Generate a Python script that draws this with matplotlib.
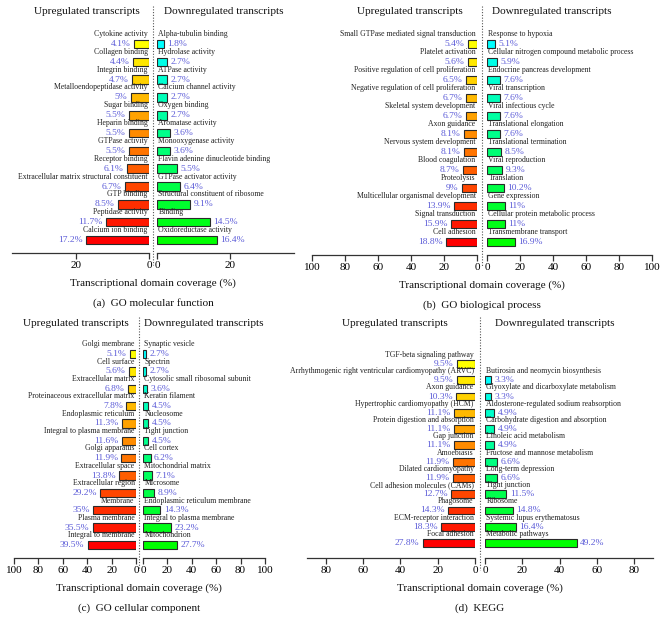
import numpy as np
import matplotlib.pyplot as plt
from matplotlib.colors import hsv_to_rgb
from matplotlib.lines import Line2D

plt.rcParams['font.family'] = ['Liberation Serif', 'DejaVu Serif']

# (a) GO molecular function
mf_up_terms = ['Cytokine activity', 'Collagen binding', 'Integrin binding',
               'Metalloendopeptidase activity', 'Sugar binding', 'Heparin binding',
               'GTPase activity', 'Receptor binding',
               'Extracellular matrix structural constituent', 'GTP binding',
               'Peptidase activity', 'Calcium ion binding']
mf_up_vals = [4.1, 4.4, 4.7, 5, 5.5, 5.5, 5.5, 6.1, 6.7, 8.5, 11.7, 17.2]
mf_dn_terms = ['Alpha-tubulin binding', 'Hydrolase activity', 'ATPase activity',
               'Calcium channel activity', 'Oxygen binding', 'Aromatase activity',
               'Monooxygenase activity', 'Flavin adenine dinucleotide binding',
               'GTPase activator activity', 'Structural constituent of ribosome',
               'Binding', 'Oxidoreductase activity']
mf_dn_vals = [1.8, 2.7, 2.7, 2.7, 2.7, 3.6, 3.6, 5.5, 6.4, 9.1, 14.5, 16.4]

# (b) GO biological process
bp_up_terms = ['Small GTPase mediated signal transduction', 'Platelet activation',
               'Positive regulation of cell proliferation',
               'Negative regulation of cell proliferation', 'Skeletal system development',
               'Axon guidance', 'Nervous system development', 'Blood coagulation',
               'Proteolysis', 'Multicellular organismal development',
               'Signal transduction', 'Cell adhesion']
bp_up_vals = [5.4, 5.6, 6.5, 6.7, 6.7, 8.1, 8.1, 8.7, 9, 13.9, 15.9, 18.8]
bp_dn_terms = ['Response to hypoxia', 'Cellular nitrogen compound metabolic process',
               'Endocrine pancreas development', 'Viral transcription',
               'Viral infectious cycle', 'Translational elongation',
               'Translational termination', 'Viral reproduction', 'Translation',
               'Gene expression', 'Cellular protein metabolic process',
               'Transmembrane transport']
bp_dn_vals = [5.1, 5.9, 7.6, 7.6, 7.6, 7.6, 8.5, 9.3, 10.2, 11, 11, 16.9]

# (c) GO cellular component
cc_up_terms = ['Golgi membrane', 'Cell surface', 'Extracellular matrix',
               'Proteinaceous extracellular matrix', 'Endoplasmic reticulum',
               'Integral to plasma membrane', 'Golgi apparatus', 'Extracellular space',
               'Extracellular region', 'Membrane', 'Plasma membrane',
               'Integral to membrane']
cc_up_vals = [5.1, 5.6, 6.8, 7.8, 11.3, 11.6, 11.9, 13.8, 29.2, 35, 35.5, 39.5]
cc_dn_terms = ['Synaptic vesicle', 'Spectrin', 'Cytosolic small ribosomal subunit',
               'Keratin filament', 'Nucleosome', 'Tight junction', 'Cell cortex',
               'Mitochondrial matrix', 'Microsome', 'Endoplasmic reticulum membrane',
               'Integral to plasma membrane', 'Mitochondrion']
cc_dn_vals = [2.7, 2.7, 3.6, 4.5, 4.5, 4.5, 6.2, 7.1, 8.9, 14.3, 23.2, 27.7]

# (d) KEGG
kg_up_terms = ['TGF-beta signaling pathway',
               'Arrhythmogenic right ventricular cardiomyopathy (ARVC)',
               'Axon guidance', 'Hypertrophic cardiomyopathy (HCM)',
               'Protein digestion and absorption', 'Gap junction', 'Amoebiasis',
               'Dilated cardiomyopathy', 'Cell adhesion molecules (CAMs)', 'Phagosome',
               'ECM-receptor interaction', 'Focal adhesion']
kg_up_vals = [9.5, 9.5, 10.3, 11.1, 11.1, 11.1, 11.9, 11.9, 12.7, 14.3, 18.3, 27.8]
kg_dn_terms = ['Butirosin and neomycin biosynthesis',
               'Glyoxylate and dicarboxylate metabolism',
               'Aldosterone-regulated sodium reabsorption',
               'Carbohydrate digestion and absorption', 'Linoleic acid metabolism',
               'Fructose and mannose metabolism', 'Long-term depression',
               'Tight junction', 'Ribosome', 'Systemic lupus erythematosus',
               'Metabolic pathways']
kg_dn_vals = [3.3, 3.3, 4.9, 4.9, 4.9, 6.6, 6.6, 11.5, 14.8, 16.4, 49.2]

W, H = 668, 630
fig = plt.figure(figsize=(W / 100, H / 100), dpi=100)

VAL_COLOR = '#5c5cd8'
EDGE = '#2a2a2a'


def px_axes(x0, x1, y0, y1):
    return fig.add_axes([x0 / W, 1 - y1 / H, (x1 - x0) / W, (y1 - y0) / H])


def ramp(n, h0, h1):
    return [hsv_to_rgb((h / 360, 1, 1)) for h in np.linspace(h0, h1, n)]


def style_axis(ax, xmax, nrows, first_px, last_px, top_px, bot_px, inverted):
    step = (last_px - first_px) / (nrows - 1)
    ax.set_ylim((bot_px - first_px) / step, (top_px - first_px) / step)
    if inverted:
        ax.set_xlim(xmax, 0)
    else:
        ax.set_xlim(0, xmax)
    ax.set_xticks(np.arange(0, xmax + 0.1, 20))
    ax.set_yticks([])
    for s in ['top', 'left', 'right']:
        ax.spines[s].set_visible(False)
    ax.spines['bottom'].set_color('#333333')
    ax.spines['bottom'].set_linewidth(0.9)
    ax.tick_params(axis='x', direction='out', length=4, width=0.9, color='#333333',
                   labelsize=8, pad=2)
    ax.patch.set_alpha(0)


def draw_side(ax, terms, vals, nrows, up):
    off = nrows - len(terms)
    rows = np.arange(len(terms)) + off
    colors = ramp(len(terms), 60, 0) if up else ramp(len(terms), 180, 120)
    ax.barh(rows, vals, height=0.48, color=colors, edgecolor=EDGE, linewidth=0.8)
    sign = -1 if up else 1
    ha = 'right' if up else 'left'
    for r, t, v in zip(rows, terms, vals):
        ax.annotate(f'{v:g}%', (v, r), xytext=(sign * 2.5, 0), textcoords='offset points',
                    ha=ha, va='center', fontsize=6.8, color=VAL_COLOR,
                    annotation_clip=False)
        ax.annotate(t, (0, r - 0.56), xytext=(sign * 1, 0), textcoords='offset points',
                    ha=ha, va='center', fontsize=5.6, color='#222222',
                    annotation_clip=False)


panels = [
    dict(up=(mf_up_terms, mf_up_vals), dn=(mf_dn_terms, mf_dn_vals),
         up_x=(12, 149), dn_x=(157, 294), xmax=37.5, mid=153,
         title_y=12, first=44, last=240, axis=253, up_c=87, dn_c=224,
         caption='(a)  GO molecular function'),
    dict(up=(bp_up_terms, bp_up_vals), dn=(bp_dn_terms, bp_dn_vals),
         up_x=(312, 477), dn_x=(487, 652), xmax=100, mid=482,
         title_y=12, first=44, last=242, axis=255, up_c=410, dn_c=552,
         caption='(b)  GO biological process'),
    dict(up=(cc_up_terms, cc_up_vals), dn=(cc_dn_terms, cc_dn_vals),
         up_x=(14, 136), dn_x=(143, 265), xmax=100, mid=139,
         title_y=323, first=354, last=545, axis=558, up_c=76, dn_c=204,
         caption='(c)  GO cellular component'),
    dict(up=(kg_up_terms, kg_up_vals), dn=(kg_dn_terms, kg_dn_vals),
         up_x=(307, 475), dn_x=(485, 653), xmax=90, mid=480,
         title_y=323, first=364, last=543, axis=558, up_c=395, dn_c=555,
         caption='(d)  KEGG'),
]

for p in panels:
    nrows = max(len(p['up'][0]), len(p['dn'][0]))
    top = p['title_y'] + 10
    ax_up = px_axes(p['up_x'][0], p['up_x'][1], top, p['axis'])
    ax_dn = px_axes(p['dn_x'][0], p['dn_x'][1], top, p['axis'])
    style_axis(ax_up, p['xmax'], nrows, p['first'], p['last'], top, p['axis'], True)
    style_axis(ax_dn, p['xmax'], nrows, p['first'], p['last'], top, p['axis'], False)
    draw_side(ax_up, p['up'][0], p['up'][1], nrows, True)
    draw_side(ax_dn, p['dn'][0], p['dn'][1], nrows, False)

    fig.text(p['up_c'] / W, 1 - p['title_y'] / H, 'Upregulated transcripts',
             ha='center', va='center', fontsize=8.1, color='#111111')
    fig.text(p['dn_c'] / W, 1 - p['title_y'] / H, 'Downregulated transcripts',
             ha='center', va='center', fontsize=8.1, color='#111111')
    fig.add_artist(Line2D([p['mid'] / W, p['mid'] / W],
                          [1 - (p['title_y'] - 6) / H, 1 - (p['axis'] + 12) / H],
                          transform=fig.transFigure, color='#555555',
                          linestyle=(0, (1, 1.5)), linewidth=0.8))
    fig.text(p['mid'] / W, 1 - (p['axis'] + 30) / H, 'Transcriptional domain coverage (%)',
             ha='center', va='center', fontsize=8, color='#111111')
    fig.text(p['mid'] / W, 1 - (p['axis'] + 50) / H, p['caption'],
             ha='center', va='center', fontsize=8, color='#111111')

fig.savefig('out.png', dpi=100)
